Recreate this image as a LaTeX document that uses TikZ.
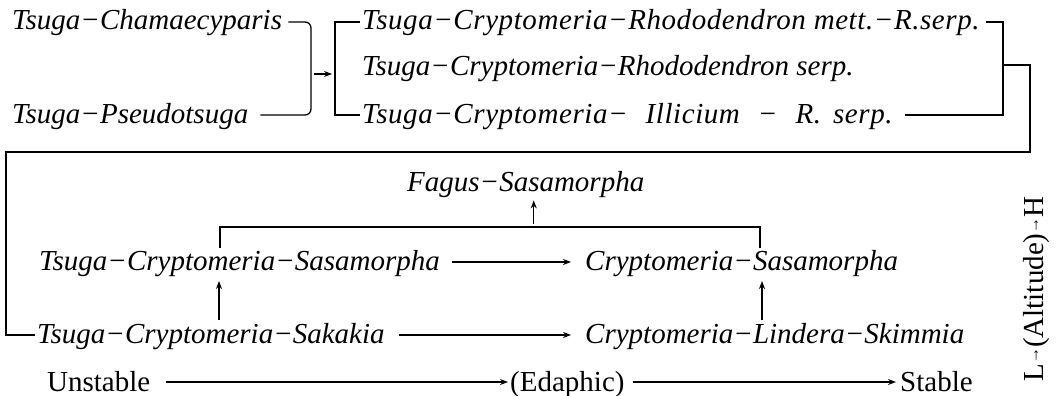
\documentclass[tikz,border=0pt]{standalone}
\usepackage{fontspec}
\setmainfont{Liberation Serif}
\usetikzlibrary{arrows.meta,calc}
\newcommand{\smallarr}{\raisebox{5pt}{\fontsize{16}{16}\selectfont→}}
\begin{document}
\begin{tikzpicture}[x=1pt,y=-1pt,
  it/.style={inner sep=0pt, anchor=base west, font=\fontsize{29}{33}\selectfont\itshape},
  rm/.style={inner sep=0pt, anchor=base west, font=\fontsize{29}{33}\selectfont},
  wide/.style={font=\fontsize{29}{33}\selectfont\itshape\addfontfeature{LetterSpace=2}},
  ln/.style={line width=1.3pt},
  ar/.style={line width=1.3pt, -{Stealth[length=8pt,width=6pt]}}]
\useasboundingbox (0,0) rectangle (1060,396);
% ---------- top left ----------
\node[it] (tc) at (12,30) {Tsuga−Chamaecyparis};
\node[it] (tp) at (12,123) {Tsuga−Pseudotsuga};
\coordinate (lbt) at (311,22);
\coordinate (lbb) at (311,115);
\coordinate (lbm) at (314,74);
\coordinate (rbt) at (335,22);
\coordinate (rbb) at (335,115);
\coordinate (rbm) at (332,74);
\draw[ln, rounded corners=6] ($(tc.base east)+(6,-8)$) -- (lbt) -- (lbb) -- ($(tp.base east)+(12,-8)$);
\draw[ar] (lbm) -- (rbm);
% ---------- top right ----------
\node[it, wide] (r1) at (362,30) {Tsuga−Cryptomeria−Rhododendron mett.−R.serp.};
\node[it] (r2) at (362,76) {Tsuga−Cryptomeria−Rhododendron serp.};
\node[it, wide] (r3) at (362,123) {Tsuga−Cryptomeria−\hspace{18pt}Illicium\hspace{18pt}−\hspace{18pt}R.\hspace{12pt}serp.};
\draw[ln] ($(r1.base west)+(-2,-8)$) -- (rbt) -- (rbb) -- ($(r3.base west)+(-2,-8)$);
\coordinate (xbt) at (1003,22);
\coordinate (xbb) at (1003,115);
\coordinate (xbm) at (1003,65);
\coordinate (xr) at (1030,65);
\coordinate (xrb) at (1030,152);
\coordinate (xlb) at (6,152);
\coordinate (xll) at (6,335);
\draw[ln] ($(r1.base east)+(6,-8)$) -- (xbt) -- (xbb) -- ($(r3.base east)+(12,-8)$);
% ---------- lower part ----------
\node[it] (fs) at (407,191) {Fagus−Sasamorpha};
\node[it] (a1) at (39,270) {Tsuga−Cryptomeria−Sasamorpha};
\node[it] (a2) at (585,270) {Cryptomeria−Sasamorpha};
\node[it] (b1) at (37,343) {Tsuga−Cryptomeria−Sakakia};
\node[it] (b2) at (585,343) {Cryptomeria−Lindera−Skimmia};
\node[rm] (c1) at (47,391) {Unstable};
\node[rm] (c2) at (510,391) {(Edaphic)};
\node[rm] (c3) at (900,391) {Stable};
\node[rm, anchor=center, rotate=90] (alt) at (1037,289) {L\smallarr(Altitude)\smallarr H};
\draw[ln] (xbm) -- (xr) -- (xrb) -- (xlb) -- (xll) -- ($(b1.base west)+(-2,-8)$);
\coordinate (bl) at (220,227);
\coordinate (br) at (760,227);
\coordinate (blt) at (220,248);
\coordinate (brt) at (760,248);
\draw[ln] (blt) -- (bl) -- (br) -- (brt);
\draw[ar] ($(fs.south |- bl)+(8,-3)$) -- ($(fs.south)+(8,3)$);
\coordinate (u1b) at (219,320);
\coordinate (u1t) at (219,281);
\coordinate (u2b) at (762,320);
\coordinate (u2t) at (762,281);
\draw[ar] (u1b) -- (u1t);
\draw[ar] (u2b) -- (u2t);
\draw[ar] ($(a1.base east)+(12,-8)$) -- ($(a2.base west)+(-14,-8)$);
\draw[ar] ($(b1.base east)+(14,-8)$) -- ($(b2.base west)+(-14,-8)$);
\draw[ar] ($(c1.base east)+(16,-9)$) -- ($(c2.base west)+(-2,-9)$);
\draw[ar] ($(c2.base east)+(8,-9)$) -- ($(c3.base west)+(-4,-9)$);
\end{tikzpicture}
\end{document}
